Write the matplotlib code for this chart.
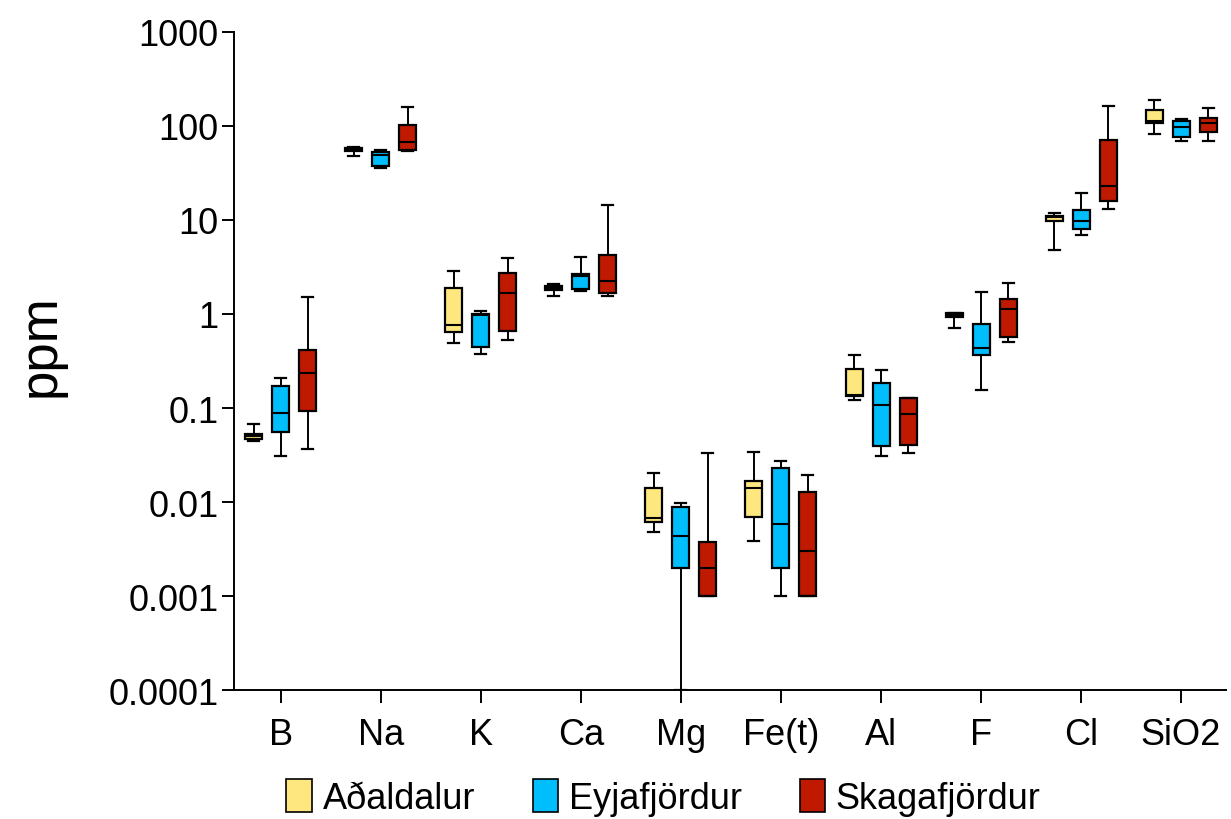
import matplotlib.pyplot as plt
import numpy as np

plt.rcParams['font.family'] = ['Liberation Sans', 'DejaVu Sans']

elements = ['B', 'Na', 'K', 'Ca', 'Mg', 'Fe(t)', 'Al', 'F', 'Cl', 'SiO2']
regions = ['Aðaldalur', 'Eyjafjördur', 'Skagafjördur']
colors = ['#FFE77F', '#00BDFB', '#BF1A00']

# per element: [whisker low, q1, median, q3, whisker high]  (ppm)
adaldalur = [
    [0.045, 0.047, 0.050, 0.053, 0.068],
    [48.3, 54.6, 56.2, 57.9, 59.3],
    [0.49, 0.64, 0.76, 1.9, 2.9],
    [1.55, 1.80, 1.88, 1.97, 2.1],
    [0.0048, 0.0062, 0.0068, 0.0141, 0.0204],
    [0.0039, 0.0069, 0.014, 0.0169, 0.034],
    [0.123, 0.134, 0.138, 0.262, 0.37],
    [0.705, 0.936, 0.976, 1.017, 1.032],
    [4.8, 9.7, 10.8, 11.1, 11.9],
    [81, 108, 112, 149, 190],
]
eyjafjordur = [
    [0.031, 0.056, 0.089, 0.173, 0.209],
    [36, 37.3, 49, 52.5, 56],
    [0.373, 0.442, 0.98, 1.0, 1.08],
    [1.76, 1.85, 2.56, 2.66, 4.04],
    [0.0001, 0.002, 0.0044, 0.0088, 0.0098],
    [0.001, 0.002, 0.0058, 0.0228, 0.0273],
    [0.031, 0.0394, 0.108, 0.186, 0.255],
    [0.157, 0.369, 0.435, 0.783, 1.72],
    [6.98, 8.08, 9.68, 12.7, 19.5],
    [69.8, 76.9, 98.3, 113, 117],
]
skagafjordur = [
    [0.037, 0.093, 0.234, 0.411, 1.53],
    [54.2, 55.1, 68, 103, 160],
    [0.529, 0.664, 1.66, 2.71, 3.97],
    [1.57, 1.66, 2.23, 4.27, 14.5],
    [0.001, 0.001, 0.002, 0.0038, 0.033],
    [0.001, 0.001, 0.003, 0.0129, 0.0195],
    [0.033, 0.0404, 0.0863, 0.127, 0.129],
    [0.508, 0.565, 1.14, 1.44, 2.15],
    [13.2, 16.0, 22.8, 71, 162],
    [68.8, 87, 107, 120, 153],
]

yticks = [1e-4, 1e-3, 1e-2, 1e-1, 1, 10, 100, 1000]
yticklabels = ['0.0001', '0.001', '0.01', '0.1', '1', '10', '100', '1000']

fig = plt.figure(figsize=(12.31, 8.2), dpi=100)
ax = fig.add_axes([0.190, 0.157, 0.806, 0.803])

x = np.arange(len(elements))
offset = 0.27
for j, (data, col) in enumerate(zip([adaldalur, eyjafjordur, skagafjordur], colors)):
    stats = []
    for row in data:
        lo, q1, med, q3, hi = row
        stats.append(dict(whislo=lo, q1=q1, med=med, q3=q3, whishi=hi, fliers=[]))
    ax.bxp(stats, positions=x + (j - 1) * offset, widths=0.17, patch_artist=True,
           showfliers=False, manage_ticks=False,
           boxprops=dict(facecolor=col, edgecolor='black', linewidth=1.6),
           medianprops=dict(color='black', linewidth=1.5),
           whiskerprops=dict(color='black', linewidth=1.4),
           capprops=dict(color='black', linewidth=1.6),
           capwidths=0.11)
    ax.bar([0], [0], color=col, edgecolor='black', linewidth=1.2, label=regions[j])

ax.set_yscale('log')
ax.set_ylim(1e-4, 1000)
ax.set_xlim(-0.47, 9.45)
ax.set_yticks(yticks)
ax.set_yticklabels(yticklabels)
ax.minorticks_off()
ax.set_xticks(x)
ax.set_xticklabels(elements)
ax.tick_params(axis='both', labelsize=26, length=9, width=1.4, direction='out')
ax.tick_params(axis='y', pad=2)
ax.tick_params(axis='x', pad=10)
ax.spines['top'].set_visible(False)
ax.spines['right'].set_visible(False)
ax.spines['left'].set_linewidth(1.4)
ax.spines['bottom'].set_linewidth(1.4)
fig.text(41 / 1231, 0.578, 'ppm', fontsize=38, rotation=90, ha='center', va='center')

ax.legend(loc='center', bbox_to_anchor=(0.433, -0.163), ncol=3, frameon=False,
          fontsize=26, handlelength=0.7, handleheight=1.0, handletextpad=0.3,
          columnspacing=1.6, borderpad=0)

plt.savefig('out.png', dpi=100)
